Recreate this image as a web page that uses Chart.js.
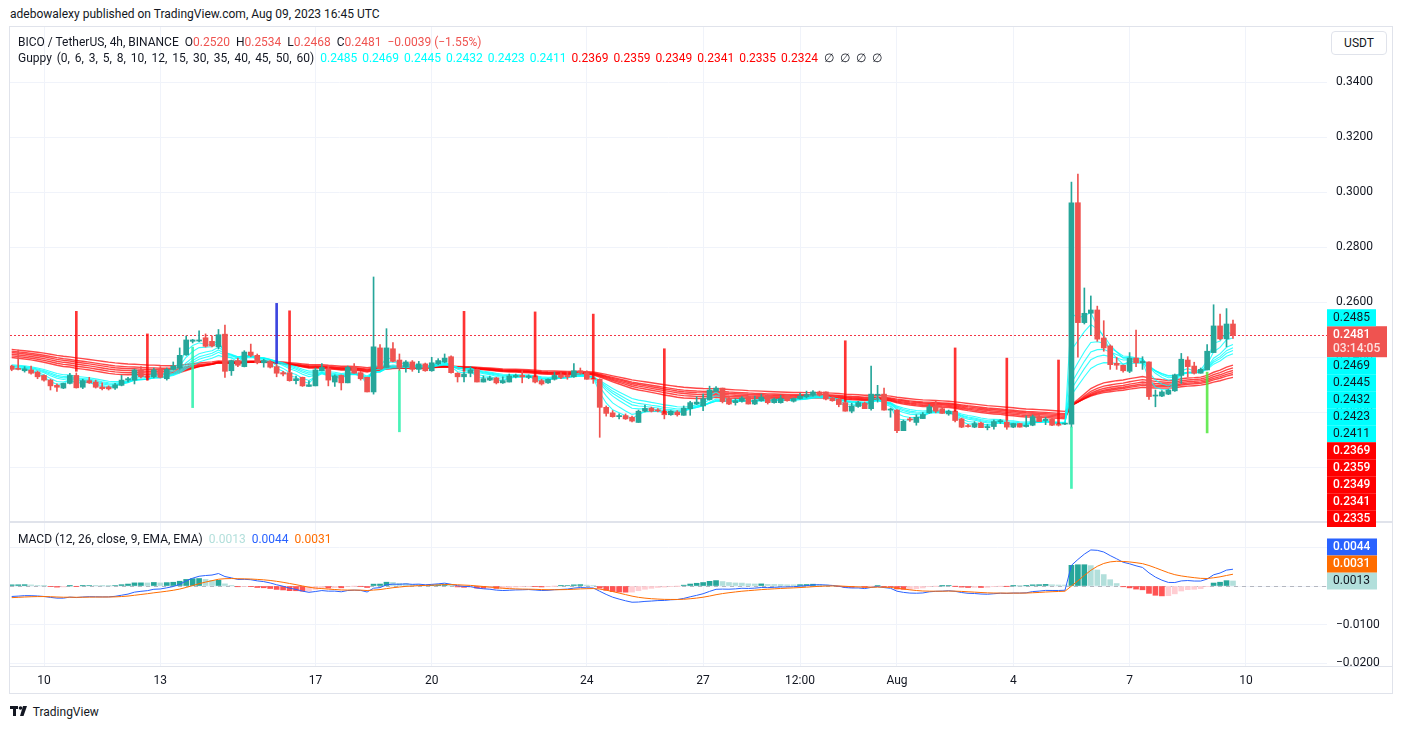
<!DOCTYPE html>
<html>
<head>
<meta charset="utf-8">
<script src="https://cdn.jsdelivr.net/npm/chart.js@4.4.0/dist/chart.umd.min.js"></script>
<style>
  html, body { margin: 0; padding: 0; background: #fff; width: 1401px; height: 730px; overflow: hidden; }
  body { font-family: Roboto, "Noto Sans", sans-serif; color: #131722; font-size: 12px; }
  .abs { position: absolute; white-space: pre; }
  #frame { left: 9px; top: 26px; width: 1384px; height: 668px; border: 1px solid #e0e3eb; box-sizing: border-box; }
  #sep { left: 10px; top: 521px; width: 1383px; height: 2px; background: #e0e3eb; }
  #tsep { left: 10px; top: 666px; width: 1383px; height: 1px; background: #e0e3eb; }
  canvas { position: absolute; }
  #priceChart { z-index: 2; }
  #usdt { left: 1331px; top: 31px; width: 56px; height: 24px; border: 1px solid #e0e3eb; border-radius: 4px;
          box-sizing: border-box; text-align: center; line-height: 22px; background: #fff; z-index: 3; }
  .gap { display: inline-block; width: 6px; }
  .vgap { display: inline-block; width: 5px; }
  .wide { word-spacing: 1.9px; }
</style>
</head>
<body>
<div id="hdr" class="abs" style="left:10px; top:7px;">adebowalexy published on TradingView.com, Aug 09, 2023 16:45 UTC</div>
<div id="frame" class="abs"></div>
<div id="sep" class="abs"></div>
<div id="tsep" class="abs"></div>
<canvas id="macdChart" width="1383" height="171" style="left:10px; top:523px;"></canvas>
<canvas id="priceChart" width="1383" height="500" style="left:10px; top:27px;"></canvas>
<div id="usdt" class="abs">USDT</div>
<div id="leg1" class="abs" style="left:18px; top:35px; z-index:3;"></div>
<div id="leg2" class="abs" style="left:18px; top:51px; z-index:3;"></div>
<div id="leg3" class="abs" style="left:18px; top:532px; z-index:3;"></div>
<div class="abs" style="left:10px; top:705px; font-size:12px;"><svg width="20" height="12" viewBox="0 0 20 12" style="vertical-align:-1px"><rect x="0" y="1" width="8" height="3" fill="#131722"/><rect x="3" y="1" width="3" height="10" fill="#131722"/><circle cx="10.5" cy="3" r="1.8" fill="#131722"/><polygon points="13,1 17,1 13.5,11 10,11" fill="#131722"/></svg> TradingView</div>

<script>
// ---- data (BICO/USDT, 4h candles) ----
const startTime = '2023-07-09T04:00:00Z';
const barHours = 4;

const opens = [
  0.2367,0.2357,0.2350,0.2353,0.2345,0.2333,0.2316,0.2297,0.2287,0.2304,
  0.2333,0.2290,0.2314,0.2309,0.2291,0.2291,0.2287,0.2297,0.2316,0.2316,
  0.2353,0.2331,0.2328,0.2353,0.2321,0.2355,0.2360,0.2408,0.2457,0.2458,
  0.2470,0.2457,0.2437,0.2483,0.2350,0.2387,0.2365,0.2418,0.2406,0.2379,
  0.2382,0.2365,0.2343,0.2343,0.2314,0.2326,0.2293,0.2295,0.2350,0.2357,
  0.2309,0.2333,0.2306,0.2362,0.2343,0.2326,0.2273,0.2433,0.2362,0.2430,
  0.2389,0.2365,0.2382,0.2355,0.2375,0.2350,0.2375,0.2382,0.2401,0.2341,
  0.2328,0.2341,0.2355,0.2309,0.2316,0.2324,0.2306,0.2309,0.2328,0.2333,
  0.2326,0.2331,0.2314,0.2306,0.2319,0.2335,0.2333,0.2328,0.2350,0.2343,
  0.2321,0.2319,0.2217,0.2197,0.2183,0.2187,0.2181,0.2162,0.2203,0.2214,
  0.2207,0.2203,0.2190,0.2200,0.2188,0.2212,0.2229,0.2222,0.2245,0.2275,
  0.2287,0.2249,0.2234,0.2239,0.2256,0.2229,0.2241,0.2261,0.2234,0.2234,
  0.2261,0.2239,0.2249,0.2256,0.2261,0.2273,0.2273,0.2251,0.2247,0.2234,
  0.2203,0.2220,0.2232,0.2212,0.2261,0.2265,0.2207,0.2207,0.2132,0.2175,
  0.2162,0.2176,0.2197,0.2222,0.2212,0.2193,0.2203,0.2175,0.2150,0.2145,
  0.2160,0.2143,0.2147,0.2165,0.2163,0.2145,0.2158,0.2147,0.2152,0.2183,
  0.2169,0.2174,0.2157,0.2156,0.2156,0.2961,0.2525,0.2559,0.2571,0.2469,
  0.2440,0.2377,0.2370,0.2348,0.2396,0.2379,0.2382,0.2258,0.2258,0.2265,
  0.2277,0.2333,0.2389,0.2367,0.2341,0.2353,0.2416,0.2513,0.2466,0.2520
];
const highs = [
  0.2370,0.2425,0.2365,0.2367,0.2349,0.2335,0.2319,0.2302,0.2305,0.2341,
  0.2342,0.2319,0.2326,0.2316,0.2306,0.2295,0.2304,0.2333,0.2326,0.2356,
  0.2365,0.2335,0.2360,0.2365,0.2360,0.2382,0.2433,0.2476,0.2464,0.2495,
  0.2484,0.2476,0.2500,0.2516,0.2389,0.2396,0.2423,0.2447,0.2411,0.2392,
  0.2387,0.2374,0.2348,0.2348,0.2331,0.2327,0.2313,0.2360,0.2376,0.2370,
  0.2335,0.2335,0.2367,0.2376,0.2348,0.2327,0.2691,0.2445,0.2503,0.2452,
  0.2411,0.2387,0.2387,0.2384,0.2378,0.2399,0.2394,0.2411,0.2404,0.2343,
  0.2345,0.2365,0.2356,0.2331,0.2331,0.2326,0.2328,0.2338,0.2338,0.2350,
  0.2335,0.2335,0.2319,0.2321,0.2345,0.2343,0.2348,0.2376,0.2360,0.2350,
  0.2324,0.2321,0.2222,0.2205,0.2193,0.2193,0.2185,0.2207,0.2225,0.2218,
  0.2212,0.2205,0.2205,0.2205,0.2222,0.2239,0.2256,0.2265,0.2294,0.2292,
  0.2287,0.2258,0.2249,0.2256,0.2258,0.2258,0.2265,0.2263,0.2251,0.2261,
  0.2261,0.2251,0.2268,0.2276,0.2278,0.2276,0.2273,0.2256,0.2249,0.2239,
  0.2232,0.2239,0.2236,0.2367,0.2297,0.2287,0.2214,0.2209,0.2171,0.2181,
  0.2190,0.2198,0.2227,0.2241,0.2217,0.2207,0.2207,0.2178,0.2155,0.2165,
  0.2163,0.2155,0.2171,0.2173,0.2168,0.2159,0.2159,0.2186,0.2189,0.2191,
  0.2181,0.2176,0.2158,0.2160,0.3036,0.3065,0.2651,0.2622,0.2585,0.2532,
  0.2444,0.2399,0.2371,0.2416,0.2498,0.2401,0.2382,0.2280,0.2278,0.2282,
  0.2338,0.2413,0.2401,0.2381,0.2360,0.2445,0.2590,0.2556,0.2576,0.2534
];
const lows = [
  0.2350,0.2353,0.2345,0.2338,0.2321,0.2312,0.2280,0.2275,0.2285,0.2302,
  0.2287,0.2285,0.2304,0.2287,0.2280,0.2280,0.2282,0.2295,0.2309,0.2302,
  0.2324,0.2316,0.2324,0.2324,0.2316,0.2353,0.2355,0.2406,0.2451,0.2456,
  0.2436,0.2437,0.2430,0.2326,0.2333,0.2365,0.2364,0.2401,0.2375,0.2363,
  0.2360,0.2328,0.2331,0.2312,0.2302,0.2293,0.2293,0.2295,0.2350,0.2295,
  0.2293,0.2280,0.2306,0.2341,0.2316,0.2273,0.2265,0.2357,0.2362,0.2382,
  0.2350,0.2345,0.2348,0.2343,0.2348,0.2348,0.2372,0.2379,0.2341,0.2309,
  0.2309,0.2328,0.2309,0.2309,0.2314,0.2302,0.2304,0.2309,0.2324,0.2306,
  0.2321,0.2306,0.2298,0.2304,0.2316,0.2321,0.2319,0.2326,0.2338,0.2319,
  0.2304,0.2108,0.2185,0.2181,0.2175,0.2173,0.2164,0.2162,0.2200,0.2200,
  0.2200,0.2175,0.2188,0.2185,0.2188,0.2188,0.2227,0.2205,0.2243,0.2275,
  0.2233,0.2227,0.2225,0.2236,0.2229,0.2227,0.2239,0.2229,0.2232,0.2232,
  0.2239,0.2236,0.2247,0.2251,0.2258,0.2258,0.2244,0.2239,0.2219,0.2203,
  0.2197,0.2217,0.2212,0.2207,0.2236,0.2207,0.2181,0.2125,0.2132,0.2166,
  0.2152,0.2176,0.2195,0.2197,0.2195,0.2188,0.2164,0.2143,0.2145,0.2143,
  0.2143,0.2135,0.2138,0.2158,0.2137,0.2143,0.2145,0.2145,0.2150,0.2165,
  0.2154,0.2150,0.2149,0.2154,0.2145,0.2399,0.2520,0.2481,0.2457,0.2421,
  0.2355,0.2355,0.2345,0.2343,0.2365,0.2355,0.2246,0.2219,0.2256,0.2263,
  0.2275,0.2304,0.2328,0.2338,0.2341,0.2353,0.2416,0.2462,0.2437,0.2468
];
const closes = [
  0.2355,0.2355,0.2357,0.2341,0.2328,0.2316,0.2295,0.2290,0.2304,0.2333,
  0.2288,0.2314,0.2306,0.2290,0.2285,0.2284,0.2299,0.2316,0.2321,0.2353,
  0.2328,0.2326,0.2353,0.2326,0.2355,0.2367,0.2406,0.2462,0.2462,0.2462,
  0.2439,0.2440,0.2481,0.2348,0.2387,0.2370,0.2418,0.2406,0.2379,0.2387,
  0.2363,0.2341,0.2338,0.2314,0.2321,0.2295,0.2299,0.2353,0.2362,0.2316,
  0.2331,0.2306,0.2362,0.2341,0.2321,0.2273,0.2437,0.2357,0.2433,0.2384,
  0.2362,0.2382,0.2355,0.2375,0.2350,0.2379,0.2387,0.2396,0.2343,0.2328,
  0.2338,0.2353,0.2309,0.2321,0.2324,0.2306,0.2314,0.2331,0.2333,0.2328,
  0.2331,0.2309,0.2302,0.2319,0.2333,0.2326,0.2328,0.2350,0.2343,0.2319,
  0.2319,0.2217,0.2195,0.2183,0.2187,0.2175,0.2167,0.2203,0.2213,0.2203,
  0.2204,0.2190,0.2203,0.2190,0.2214,0.2234,0.2236,0.2248,0.2280,0.2287,
  0.2238,0.2229,0.2241,0.2251,0.2229,0.2244,0.2254,0.2234,0.2247,0.2249,
  0.2241,0.2249,0.2258,0.2263,0.2273,0.2261,0.2247,0.2241,0.2227,0.2203,
  0.2222,0.2234,0.2212,0.2265,0.2263,0.2207,0.2210,0.2132,0.2166,0.2171,
  0.2181,0.2191,0.2219,0.2203,0.2195,0.2203,0.2169,0.2145,0.2147,0.2158,
  0.2143,0.2147,0.2165,0.2167,0.2145,0.2158,0.2145,0.2152,0.2183,0.2165,
  0.2174,0.2152,0.2152,0.2158,0.2961,0.2525,0.2559,0.2571,0.2465,0.2433,
  0.2372,0.2370,0.2350,0.2396,0.2379,0.2384,0.2256,0.2261,0.2273,0.2280,
  0.2335,0.2392,0.2365,0.2341,0.2355,0.2421,0.2513,0.2466,0.2520,0.2481
];

// vertical marker lines drawn on the chart (candle index, top, bottom, kind)
const spikeIdx    = [10, 21, 28, 41, 43, 60, 70, 81, 90, 101, 129, 146, 154, 162, 164, 185];
const spikeTop    = [0.2566,0.2484,0.2436,0.2595,0.2568,0.2350,0.2566,0.2564,0.2556,0.2430,0.2459,0.2433,0.2396,0.2389,0.2145,0.2345];
const spikeBottom = [0.2348,0.2316,0.2216,0.2377,0.2348,0.2128,0.2348,0.2328,0.2321,0.2195,0.2239,0.2203,0.2170,0.2157,0.1922,0.2124];
const spikeKind   = ['red','red','mint','blue','red','mint','red','red','red','red','red','red','red','red','mint','lime'];

// time axis
const tickDates  = ['2023-07-10T00:00Z','2023-07-13T00:00Z','2023-07-17T00:00Z','2023-07-20T00:00Z','2023-07-24T00:00Z',
                    '2023-07-27T00:00Z','2023-07-29T12:00Z','2023-08-01T00:00Z','2023-08-04T00:00Z','2023-08-07T00:00Z','2023-08-10T00:00Z'];
const tickLabels = ['10','13','17','20','24','27','12:00','Aug','4','7','10'];
const priceTicks = [0.20, 0.22, 0.24, 0.26, 0.28, 0.30, 0.32, 0.34];
const macdTicks  = [0.01, 0, -0.01, -0.02];

// Guppy (EMA ribbon) lengths, starting levels at the first visible candle and legend values
const guppyTitle   = 'Guppy (0, 6, 3, 5, 8, 10, 12, 15, 30, 35, 40, 45, 50, 60)';
const guppyLengths = [3, 5, 8, 10, 12, 15, 30, 35, 40, 45, 50, 60];
const guppySeeds   = [0.2360,0.2362,0.2366,0.2369,0.2371,0.2374,0.2401,0.2407,0.2413,0.2419,0.2424,0.2430];
const guppyLegend  = [0.2485,0.2469,0.2445,0.2432,0.2423,0.2411,0.2369,0.2359,0.2349,0.2341,0.2335,0.2324];

// MACD (12, 26, 9) starting levels and legend values [hist, macd, signal]
const macdTitle  = 'MACD (12, 26, close, 9, EMA, EMA)';
const macdSeedFast = 0.2371, macdSeedSlow = 0.2399, macdSeedSignal = -0.0031;
const macdLegend = [0.0013, 0.0044, 0.0031];
const countdown = '03:14:05';

// ---- view / style ----
const UP = '#26a69a', DN = '#ef5350';
const GRID = '#f0f3fa';
const CYAN = '#00ffff', RED = '#ff0000';
const spikeColors = { red: 'rgba(255,0,0,0.8)', mint: 'rgba(40,240,170,0.85)', blue: 'rgba(40,50,220,0.9)', lime: 'rgba(80,230,60,0.85)' };
const xMin = -0.263, xMax = 203.55;            // candles in view
const priceMin = 0.180364, priceMax = 0.36;
const macdMin = -0.020779, macdMax = 0.016364;
const FONT = { family: 'Roboto, "Noto Sans", sans-serif', size: 12 };

const n = closes.length;
const hourMs = 3600 * 1000;
const toIdx = d => (Date.parse(d) - Date.parse(startTime)) / (barHours * hourMs);
const tickIdx = tickDates.map(toIdx);
const fmt = v => (v < 0 ? '\u2212' : '') + Math.abs(v).toFixed(4);

const ema = (src, len, seed) => {
  const k = 2 / (len + 1);
  let v = seed;
  return src.map(x => (v += k * (x - v)));
};

const guppy = guppyLengths.map((len, k) => ema(closes, len, guppySeeds[k]));
const fast = ema(closes, 12, macdSeedFast);
const slow = ema(closes, 26, macdSeedSlow);
const macd = fast.map((f, i) => f - slow[i]);
const signal = ema(macd, 9, macdSeedSignal);
const hist = macd.map((m, i) => m - signal[i]);
const histColor = hist.map((h, i) => {
  const prev = i > 0 ? hist[i - 1] : 0;
  if (h >= 0) return h > prev ? '#26a69a' : '#b2dfdb';
  return h < prev ? '#ff5252' : '#ffcdd2';
});

// ---- legends ----
const last = n - 1;
const chg = closes[last] - closes[last - 1];
const pct = chg / closes[last - 1] * 100;
const vc = closes[last] >= opens[last] ? 'color:' + UP : 'color:' + DN;
document.getElementById('leg1').innerHTML =
  'BICO / TetherUS, 4h, BINANCE<span class="gap"></span>' +
  `O<span style="${vc}">${fmt(opens[last])}</span><span class="gap"></span>` +
  `H<span style="${vc}">${fmt(highs[last])}</span><span class="gap"></span>` +
  `L<span style="${vc}">${fmt(lows[last])}</span><span class="gap"></span>` +
  `C<span style="${vc}">${fmt(closes[last])}</span><span class="gap"></span>` +
  `<span style="${vc}">${fmt(chg)} (${pct < 0 ? '\u2212' : '+'}${Math.abs(pct).toFixed(2)}%)</span>`;
document.getElementById('leg2').innerHTML = `<span class="wide">${guppyTitle}</span><span class="gap"></span>` +
  guppyLegend.map((v, k) => `<span style="color:${k < 6 ? CYAN : RED}">${fmt(v)}</span>`).join('<span class="vgap"></span>') +
  '<span class="gap"></span>' + ['\u2205', '\u2205', '\u2205', '\u2205'].join('<span class="gap"></span>');
const macdLegColors = ['#b2dfdb', '#2962ff', '#ff6d00'];
document.getElementById('leg3').innerHTML = `${macdTitle}<span class="gap"></span>` +
  macdLegend.map((v, k) => `<span style="color:${macdLegColors[k]}">${fmt(v)}</span>`).join('<span class="gap"></span>');

// ---- axis value labels (stacked so they do not overlap) ----
function drawAxisLabels(chart, labels) {
  const { ctx, chartArea: a, scales: { y } } = chart;
  const H = 17, LINE = 14;
  const boxes = labels.map(l => ({ ...l, py: y.getPixelForValue(l.value), h: H + (l.lines.length - 1) * LINE }));
  const anchor = boxes[0];
  anchor.top = anchor.py - H / 2;
  let limit = anchor.top;
  boxes.slice(1).filter(b => b.value > anchor.value).sort((p, q) => q.py - p.py).forEach(b => {
    b.top = Math.min(b.py - H / 2, limit - b.h); limit = b.top;
  });
  limit = anchor.top + anchor.h;
  boxes.slice(1).filter(b => b.value <= anchor.value).sort((p, q) => p.py - q.py).forEach(b => {
    b.top = Math.max(b.py - H / 2, limit); limit = b.top + b.h;
  });
  ctx.save();
  ctx.textBaseline = 'middle';
  boxes.forEach(b => {
    ctx.fillStyle = b.bg;
    ctx.fillRect(a.right, b.top, b.w, b.h);
    b.lines.forEach((t, k) => {
      ctx.font = `${b.bold ? 500 : 400} 12px ${FONT.family}`;
      ctx.fillStyle = b.fg[k] || b.fg[0];
      ctx.fillText(t, a.right + 6, b.top + H / 2 + k * LINE + 0.5);
    });
  });
  ctx.restore();
}

const priceLabels = [
  { value: closes[last], lines: [fmt(closes[last]), countdown], bg: DN, fg: ['#fff', 'rgba(255,255,255,0.82)'], w: 60, bold: true },
  ...guppyLegend.map((v, k) => ({ value: v, lines: [fmt(v)], bg: k < 6 ? CYAN : RED, fg: [k < 6 ? '#131722' : '#fff'], w: 49, bold: k >= 6 }))
];
const macdLabels = [
  { value: macdLegend[0], lines: [fmt(macdLegend[0])], bg: '#b2dfdb', fg: ['#131722'], w: 50 },
  { value: macdLegend[1], lines: [fmt(macdLegend[1])], bg: '#2962ff', fg: ['#fff'], w: 50, bold: true },
  { value: macdLegend[2], lines: [fmt(macdLegend[2])], bg: '#ff6d00', fg: ['#fff'], w: 50, bold: true }
];

const priceOverlay = {
  id: 'priceOverlay',
  beforeDatasetsDraw(chart) {
    const { ctx, chartArea: a, scales: { y } } = chart;
    const py = Math.round(y.getPixelForValue(closes[last])) + 0.5;
    ctx.save();
    ctx.strokeStyle = '#f23645';
    ctx.lineWidth = 1;
    ctx.setLineDash([2, 2]);
    ctx.beginPath(); ctx.moveTo(a.left, py); ctx.lineTo(a.right, py); ctx.stroke();
    ctx.restore();
  },
  afterDraw(chart) { drawAxisLabels(chart, priceLabels); }
};
const macdOverlay = {
  id: 'macdOverlay',
  beforeDatasetsDraw(chart) {
    const { ctx, chartArea: a, scales: { y } } = chart;
    const py = Math.round(y.getPixelForValue(0)) + 0.5;
    ctx.save();
    ctx.strokeStyle = 'rgba(120,123,134,0.5)';
    ctx.setLineDash([4, 4]);
    ctx.beginPath(); ctx.moveTo(a.left, py); ctx.lineTo(a.right, py); ctx.stroke();
    ctx.restore();
  },
  afterDraw(chart) { drawAxisLabels(chart, macdLabels); }
};

const idx = closes.map((_, i) => i);
const candleColor = idx.map(i => closes[i] >= opens[i] ? UP : DN);

const xScale = (showLabels) => ({
  type: 'linear', min: xMin, max: xMax, offset: false,
  afterBuildTicks: s => { s.ticks = tickIdx.map(v => ({ value: v })); },
  afterFit: s => { s.height = showLabels ? 28 : 0; s.paddingLeft = 0; s.paddingRight = 0; },
  grid: { color: GRID, drawTicks: false, offset: false },
  border: { display: false },
  ticks: {
    display: showLabels, autoSkip: false, maxRotation: 0, padding: 8,
    color: '#131722', font: FONT,
    callback: v => tickLabels[tickIdx.findIndex(t => Math.abs(t - v) < 1e-6)]
  }
});
const yScale = (min, max, ticks) => ({
  type: 'linear', position: 'right', min, max,
  afterBuildTicks: s => { s.ticks = ticks.map(v => ({ value: v })); },
  afterFit: s => { s.width = 66; s.paddingTop = 0; s.paddingBottom = 0; },
  grid: { color: GRID, drawTicks: false },
  border: { display: false },
  ticks: { padding: 9, color: '#131722', font: FONT, callback: v => fmt(v) }
});
const baseOptions = {
  responsive: false, animation: false, devicePixelRatio: 1,
  plugins: { legend: { display: false }, tooltip: { enabled: false } },
  events: []
};

new Chart(document.getElementById('priceChart'), {
  type: 'bar',
  data: {
    datasets: [
      {
        order: 0, grouped: false, barThickness: 2,
        data: spikeIdx.map((x, k) => ({ x, y: [spikeBottom[k], spikeTop[k]] })),
        backgroundColor: spikeKind.map(k => spikeColors[k])
      },
      {
        order: 1, grouped: false, barThickness: 5, minBarLength: 1,
        data: idx.map(i => ({ x: i, y: [opens[i], closes[i]] })),
        backgroundColor: candleColor
      },
      {
        order: 2, grouped: false, barThickness: 1,
        data: idx.map(i => ({ x: i, y: [lows[i], highs[i]] })),
        backgroundColor: candleColor
      },
      ...guppy.map((series, k) => ({
        type: 'line', order: 3,
        data: series.map((v, i) => ({ x: i, y: v })),
        borderColor: k < 6 ? 'rgba(0,255,255,0.8)' : 'rgba(255,0,0,0.72)',
        borderWidth: k < 6 ? 1.1 : 1.4,
        pointRadius: 0, tension: 0
      }))
    ]
  },
  options: {
    ...baseOptions,
    layout: { padding: { bottom: 6 } },
    scales: { x: xScale(false), y: yScale(priceMin, priceMax, priceTicks) }
  },
  plugins: [priceOverlay]
});

new Chart(document.getElementById('macdChart'), {
  type: 'bar',
  data: {
    datasets: [
      {
        type: 'line', order: 0, data: signal.map((v, i) => ({ x: i, y: v })),
        borderColor: '#ff6d00', borderWidth: 1, pointRadius: 0, tension: 0
      },
      {
        type: 'line', order: 0, data: macd.map((v, i) => ({ x: i, y: v })),
        borderColor: '#2962ff', borderWidth: 1, pointRadius: 0, tension: 0
      },
      {
        order: 1, grouped: false, barThickness: 5,
        data: hist.map((v, i) => ({ x: i, y: v })),
        backgroundColor: histColor
      }
    ]
  },
  options: {
    ...baseOptions,
    layout: { padding: 0 },
    scales: { x: xScale(true), y: yScale(macdMin, macdMax, macdTicks) }
  },
  plugins: [macdOverlay]
});
</script>
</body>
</html>
